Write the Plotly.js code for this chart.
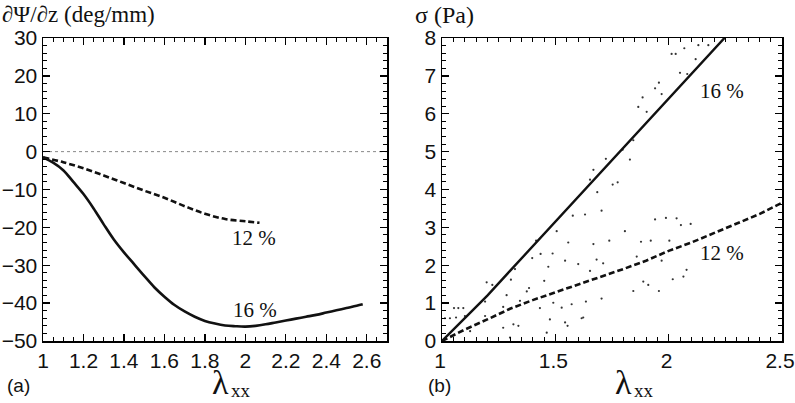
<!DOCTYPE html>
<html><head><meta charset="utf-8">
<script src="https://cdn.plot.ly/plotly-3.0.1.min.js"></script>
<style>html,body{margin:0;padding:0;background:#fff}#chart{width:795px;height:403px}</style>
</head><body><div id="chart"></div>
<script>
// Panel (a): twist gradient vs stretch
const a16x = [1.0, 1.05, 1.1, 1.15, 1.2, 1.25, 1.3, 1.35, 1.4, 1.45, 1.5, 1.55, 1.6, 1.65, 1.7, 1.75, 1.8, 1.85, 1.9, 1.95, 2.0, 2.05, 2.1, 2.15, 2.2, 2.25, 2.3, 2.35, 2.4, 2.45, 2.5, 2.55, 2.58];
const a16y = [-1.5, -2.9, -4.9, -8.0, -11.2, -15.0, -19.2, -23.2, -26.6, -29.7, -32.8, -35.8, -38.3, -40.5, -42.2, -43.6, -44.7, -45.4, -45.9, -46.1, -46.2, -46.0, -45.6, -45.1, -44.6, -44.1, -43.6, -43.1, -42.5, -41.9, -41.3, -40.7, -40.3];
const a12x = [1.0, 1.1, 1.2, 1.3, 1.4, 1.5, 1.6, 1.7, 1.8, 1.9, 2.0, 2.07];
const a12y = [-1.5, -2.8, -4.4, -6.3, -8.3, -10.3, -12.2, -14.4, -16.4, -17.8, -18.4, -18.8];
const zeroX = [1, 2.7];
const zeroY = [0, 0];

// Panel (b): stress vs stretch
const b16x = [1.0, 1.1, 1.2, 1.3, 1.4, 1.5, 1.6, 1.7, 1.8, 1.9, 2.0, 2.1, 2.2, 2.3];
const b16y = [0, 0.6, 1.2, 1.85, 2.5, 3.15, 3.8, 4.45, 5.1, 5.75, 6.4, 7.05, 7.7, 8.35];
const b12x = [1.0, 1.1, 1.2, 1.3, 1.4, 1.5, 1.6, 1.7, 1.8, 1.9, 2.0, 2.1, 2.2, 2.3, 2.4, 2.5];
const b12y = [0, 0.3, 0.57, 0.85, 1.08, 1.28, 1.48, 1.7, 1.9, 2.12, 2.38, 2.6, 2.85, 3.1, 3.35, 3.65];
// measured scatter points
const ptsX = [1.577,1.631,1.704,1.506,1.557,1.668,1.415,1.435,1.488,1.398,1.543,1.601,1.682,1.711,1.469,1.322,1.653,1.304,1.451,1.197,1.222,1.285,1.384,1.374,1.344,1.491,1.572,1.635,1.704,1.528,1.432,1.19,1.27,1.053,1.072,1.094,1.013,1.035,1.062,1.101,1.19,1.315,1.337,1.27,1.476,1.543,1.554,1.616,1.462,1.124,1.30,
  2.013,2.031,2.069,2.131,2.119,2.175,2.05,2.082,1.957,1.94,1.969,1.885,1.866,1.903,1.844,1.797,1.829,1.723,1.668,1.653,1.753,1.775,1.685,
  1.94,1.988,2.035,2.054,2.097,1.807,1.738,1.878,1.921,2.003,1.859,1.969,2.079,2.065,2.018,1.888,1.91,1.844,1.957,1.623];
const ptsY = [3.31,3.34,3.44,2.90,2.60,2.56,2.65,2.30,2.31,2.19,2.12,2.03,2.15,2.05,1.96,1.90,1.85,1.62,1.59,1.55,1.48,1.21,1.40,1.31,1.06,1.01,0.97,1.04,1.12,0.88,0.87,1.04,0.90,0.87,0.87,0.87,0.60,0.60,0.62,0.66,0.66,0.44,0.40,0.35,0.57,0.49,0.40,0.60,0.22,0.26,0.09,
  7.58,7.58,7.73,7.81,7.44,7.81,7.08,7.05,6.82,6.67,6.52,6.43,6.18,6.05,5.30,5.05,4.79,4.81,4.52,4.26,4.13,4.19,3.93,
  3.21,3.25,3.24,3.06,3.09,2.90,2.65,2.62,2.65,2.65,2.23,2.12,1.88,1.70,1.63,1.57,1.48,1.32,1.32,0.62];

const leftTickVals = [1, 1.2, 1.4, 1.6, 1.8, 2, 2.2, 2.4, 2.6];
const leftTickText = ['1', '1.2', '1.4', '1.6', '1.8', '2', '2.2', '2.4', '2.6'];
const rightTickVals = [1, 1.5, 2, 2.5];
const rightTickText = ['1', '1.5', '2', '2.5'];

const SERIF = '"Liberation Serif", "Times New Roman", serif';
const SANS = '"Liberation Sans", Arial, sans-serif';

const traces = [
  {x: zeroX, y: zeroY, xaxis: 'x', yaxis: 'y', mode: 'lines', line: {color: '#888', width: 1, dash: 'dot'}, hoverinfo: 'skip'},
  {x: a12x, y: a12y, xaxis: 'x', yaxis: 'y', mode: 'lines', line: {color: '#111', width: 2.6, dash: '6px,3px', shape: 'spline'}},
  {x: a16x, y: a16y, xaxis: 'x', yaxis: 'y', mode: 'lines', line: {color: '#111', width: 2.6, shape: 'spline'}},
  {x: ptsX, y: ptsY, xaxis: 'x2', yaxis: 'y2', mode: 'markers', marker: {color: '#333', size: 2.2}},
  {x: b12x, y: b12y, xaxis: 'x2', yaxis: 'y2', mode: 'lines', line: {color: '#111', width: 2.6, dash: '6px,3px'}},
  {x: b16x, y: b16y, xaxis: 'x2', yaxis: 'y2', mode: 'lines', line: {color: '#111', width: 2.4}}
];

const axCommon = {
  showgrid: false, zeroline: false, showline: true, linecolor: '#000', linewidth: 1.5,
  mirror: 'allticks', ticks: 'inside', ticklen: 7, tickwidth: 1.3, tickcolor: '#000',
  ticklabeloverflow: 'allow',
  tickfont: {family: SANS, size: 21, color: '#111'}
};

const layout = {
  width: 795, height: 403,
  margin: {l: 0, r: 0, t: 0, b: 0},
  paper_bgcolor: '#fff', plot_bgcolor: '#fff',
  font: {family: SANS},
  showlegend: false,
  xaxis: Object.assign({}, axCommon, {domain: [43/795, 387/795], range: [1, 2.7], tickmode: 'array', tickvals: leftTickVals, ticktext: leftTickText,
    minor: {dtick: 0.05, ticks: 'inside', ticklen: 4, tickwidth: 1, tickcolor: '#000'}, anchor: 'y'}),
  yaxis: Object.assign({}, axCommon, {domain: [1 - 341/403, 1 - 38/403], range: [-50, 30], dtick: 10,
    minor: {dtick: 2, ticks: 'inside', ticklen: 4, tickwidth: 1, tickcolor: '#000'}, anchor: 'x'}),
  xaxis2: Object.assign({}, axCommon, {domain: [442/795, 782/795], range: [1, 2.5], tickmode: 'array', tickvals: rightTickVals, ticktext: rightTickText,
    ticklabelshift: -2,
    minor: {dtick: 0.05, tick0: 1, ticks: 'inside', ticklen: 4, tickwidth: 1, tickcolor: '#000'}, anchor: 'y2'}),
  yaxis2: Object.assign({}, axCommon, {domain: [1 - 341/403, 1 - 38/403], range: [0, 8], dtick: 1,
    minor: {dtick: 0.2, ticks: 'inside', ticklen: 4, tickwidth: 1, tickcolor: '#000'}, anchor: 'x2'}),
  annotations: [
    {text: '∂Ψ/∂z (deg/mm)', xref: 'paper', yref: 'paper', x: 0, y: 1, xanchor: 'left', yanchor: 'top', showarrow: false, font: {family: SERIF, size: 23, color: '#111'}},
    {text: 'σ (Pa)', xref: 'paper', yref: 'paper', x: 413/795, y: 1, xanchor: 'left', yanchor: 'top', showarrow: false, font: {family: SERIF, size: 24, color: '#111'}},
    {text: 'λ', xref: 'paper', yref: 'paper', x: 231/795, y: 0, xanchor: 'right', yanchor: 'bottom', showarrow: false, font: {family: SERIF, size: 34, color: '#111'}},
    {text: 'xx', xref: 'paper', yref: 'paper', x: 229/795, y: 0, xanchor: 'left', yanchor: 'bottom', showarrow: false, font: {family: SERIF, size: 19, color: '#111'}},
    {text: 'λ', xref: 'paper', yref: 'paper', x: 634/795, y: 0, xanchor: 'right', yanchor: 'bottom', showarrow: false, font: {family: SERIF, size: 34, color: '#111'}},
    {text: 'xx', xref: 'paper', yref: 'paper', x: 632/795, y: 0, xanchor: 'left', yanchor: 'bottom', showarrow: false, font: {family: SERIF, size: 19, color: '#111'}},
    {text: '(a)', xref: 'paper', yref: 'paper', x: 5/795, y: 1 - 385/403, xanchor: 'left', yanchor: 'middle', showarrow: false, font: {family: SANS, size: 19, color: '#111'}},
    {text: '(b)', xref: 'paper', yref: 'paper', x: 426/795, y: 1 - 385/403, xanchor: 'left', yanchor: 'middle', showarrow: false, font: {family: SANS, size: 19, color: '#111'}},
    {text: '12 %', xref: 'x', yref: 'y', x: 2.042, y: -22.7, showarrow: false, font: {family: SERIF, size: 21, color: '#111'}},
    {text: '16 %', xref: 'x', yref: 'y', x: 2.047, y: -41.9, showarrow: false, font: {family: SERIF, size: 21, color: '#111'}},
    {text: '16 %', xref: 'x2', yref: 'y2', x: 2.237, y: 6.61, showarrow: false, font: {family: SERIF, size: 21, color: '#111'}},
    {text: '12 %', xref: 'x2', yref: 'y2', x: 2.237, y: 2.32, showarrow: false, font: {family: SERIF, size: 21, color: '#111'}}
  ]
};

Plotly.newPlot('chart', traces, layout, {staticPlot: true, displayModeBar: false});
</script>
</body></html>
